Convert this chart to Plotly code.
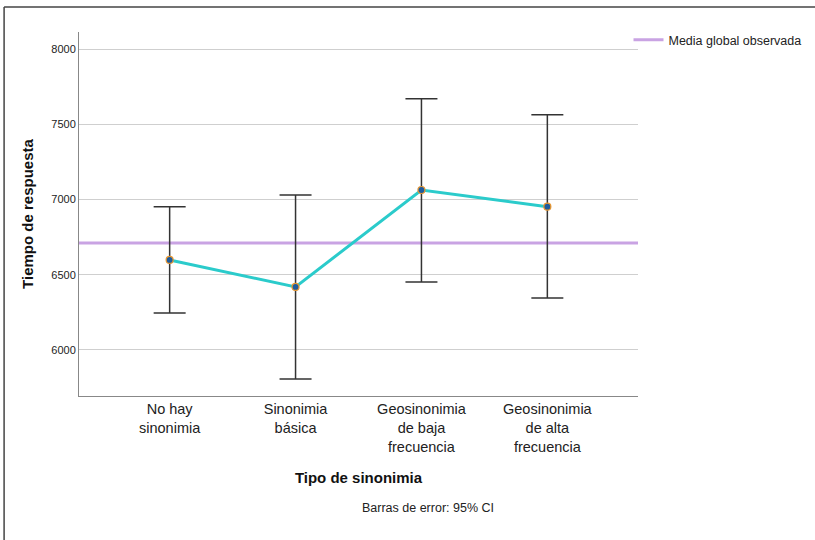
import plotly.graph_objects as go

categories = ["No hay<br>sinonimia", "Sinonimia<br>básica",
              "Geosinonimia<br>de baja<br>frecuencia", "Geosinonimia<br>de alta<br>frecuencia"]
means = [6598, 6419, 7063, 6952]
ci_lower = [6246, 5807, 6452, 6346]
ci_upper = [6952, 7030, 7670, 7563]
global_mean = 6711
y_ticks = [6000, 6500, 7000, 7500, 8000]

err_plus = [u - m for u, m in zip(ci_upper, means)]
err_minus = [m - l for m, l in zip(means, ci_lower)]

FONT = "Liberation Sans, Arial, sans-serif"

fig = go.Figure()
fig.add_trace(go.Scatter(
    x=categories, y=means, mode="lines+markers",
    line=dict(color="#2BCBCB", width=3),
    marker=dict(size=7, color="#1F5C9E", line=dict(color="#E8962E", width=1.2)),
    error_y=dict(type="data", symmetric=False, array=err_plus, arrayminus=err_minus,
                 color="#333333", thickness=1.5, width=16),
    showlegend=False,
))

fig.add_shape(type="line", xref="paper", x0=0, x1=1, yref="y", y0=global_mean, y1=global_mean,
              line=dict(color="#C9A3E3", width=3), layer="below",
              showlegend=True, name="Media global observada")

# outer frame (left and top edges)
fig.add_shape(type="line", xref="paper", yref="paper", x0=-0.134, x1=-0.134, y0=-0.40, y1=1.069,
              line=dict(color="#444444", width=1.5))
fig.add_shape(type="line", xref="paper", yref="paper", x0=-0.134, x1=1.32, y0=1.069, y1=1.069,
              line=dict(color="#444444", width=1.5))

fig.add_annotation(text="Barras de error: 95% CI", xref="paper", yref="paper",
                   x=0.625, y=-0.308, showarrow=False, xanchor="center", yanchor="middle",
                   font=dict(family=FONT, size=12.5, color="#222222"))

fig.update_layout(
    width=815, height=540,
    margin=dict(l=79, r=177, t=32, b=144, autoexpand=False),
    paper_bgcolor="white", plot_bgcolor="white",
    font=dict(family=FONT, color="#222222"),
    legend=dict(x=0.983, y=1.019, xanchor="left", yanchor="top",
                font=dict(family=FONT, size=12.5, color="#222222"),
                bgcolor="rgba(0,0,0,0)", itemwidth=30),
)
fig.update_xaxes(
    type="category", range=[-0.72, 3.72], automargin=False,
    showline=True, linecolor="#888888", linewidth=1,
    showgrid=False, ticks="", tickfont=dict(family=FONT, size=14.5, color="#222222"),
    title=dict(text="<b>Tipo de sinonimia</b>", font=dict(family=FONT, size=15, color="#111111"),
               standoff=18),
)
fig.update_yaxes(
    range=[5694, 8113], tickvals=y_ticks, automargin=False,
    showline=True, linecolor="#888888", linewidth=1,
    showgrid=True, gridcolor="#CFCFCF", gridwidth=1, zeroline=False,
    ticks="", tickfont=dict(family=FONT, size=11, color="#222222"),
    title=dict(text="<b>Tiempo de respuesta</b>", font=dict(family=FONT, size=15, color="#111111"),
               standoff=14),
)

fig.write_html("out.html", config={"displayModeBar": False},
               post_script="document.body.style.margin='0';")
